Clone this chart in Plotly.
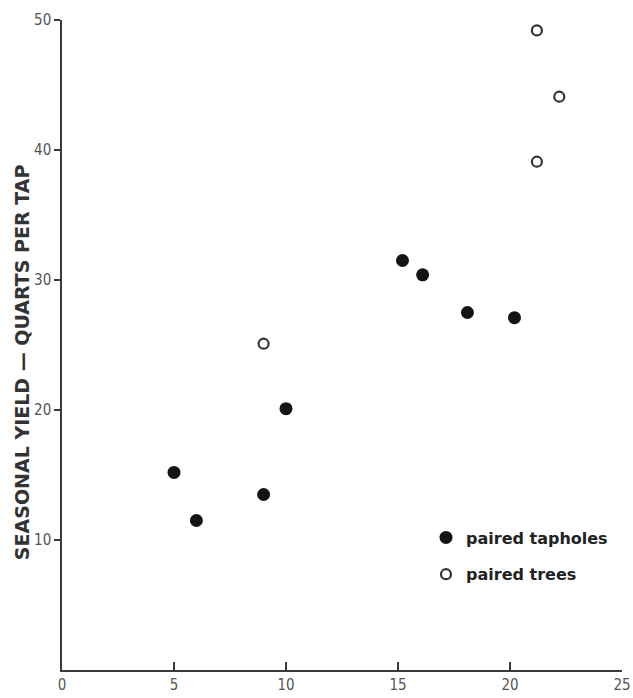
import plotly.graph_objects as go

# Data
taphole_x = [5, 6, 9, 10, 15.2, 16.1, 18.1, 20.2]
taphole_y = [15.2, 11.5, 13.5, 20.1, 31.5, 30.4, 27.5, 27.1]
tree_x = [9, 21.2, 22.2, 21.2]
tree_y = [25.1, 49.2, 44.1, 39.1]

x_ticks = [0, 5, 10, 15, 20, 25]
y_ticks = [10, 20, 30, 40, 50]

ink = "#141414"
axis_col = "#3a3a3a"
tick_font = dict(family="DejaVu Sans Condensed, Liberation Sans Narrow, Arial Narrow, sans-serif",
                 size=15, color="#555")

fig = go.Figure()
fig.add_trace(go.Scatter(
    x=taphole_x, y=taphole_y, mode="markers", name="paired tapholes",
    legendgroup="a",
    marker=dict(symbol="circle", size=13, color=ink, line=dict(width=0)),
))
fig.add_trace(go.Scatter(
    x=tree_x, y=tree_y, mode="markers", name="paired trees",
    legendgroup="b",
    marker=dict(symbol="circle-open", size=10, color="#333", line=dict(width=2.2)),
))

fig.update_layout(
    width=633, height=698,
    margin=dict(l=62, r=11, t=20, b=28, autoexpand=False),
    paper_bgcolor="white", plot_bgcolor="white",
    showlegend=True,
    legend=dict(
        x=0.65, y=0.23, xanchor="left", yanchor="top",
        bgcolor="rgba(0,0,0,0)",
        font=dict(family="DejaVu Sans, sans-serif", size=16, color="#222", weight="bold"),
        itemsizing="trace", tracegroupgap=13, itemwidth=30,
    ),
    font=dict(family="DejaVu Sans, sans-serif", color="#333"),
)

fig.add_annotation(
    text="SEASONAL YIELD — QUARTS PER TAP",
    xref="paper", yref="paper", x=-0.071, y=0.474,
    xanchor="center", yanchor="middle", textangle=-90, showarrow=False,
    font=dict(family="DejaVu Sans, sans-serif", size=19, color="#333", weight="bold"),
)

fig.update_xaxes(
    range=[0, 25], tickvals=x_ticks, ticktext=[str(v) for v in x_ticks],
    showgrid=False, zeroline=False, showline=True, linecolor=axis_col, linewidth=1.5,
    ticks="inside", ticklen=8, tickwidth=1.5, tickcolor=axis_col,
    tickfont=tick_font, automargin=False, ticklabelstandoff=0,
)
fig.update_yaxes(
    range=[0, 50], tickvals=y_ticks, ticktext=[str(v) for v in y_ticks],
    showgrid=False, zeroline=False, showline=True, linecolor=axis_col, linewidth=1.5,
    ticks="outside", ticklen=6, tickwidth=1.5, tickcolor=axis_col,
    tickfont=tick_font, automargin=False, ticklabelstandoff=0,
)

fig.write_html(
    "out.html",
    config={"displayModeBar": False},
    post_script="document.body.style.margin='0';document.body.style.overflow='hidden';",
)
